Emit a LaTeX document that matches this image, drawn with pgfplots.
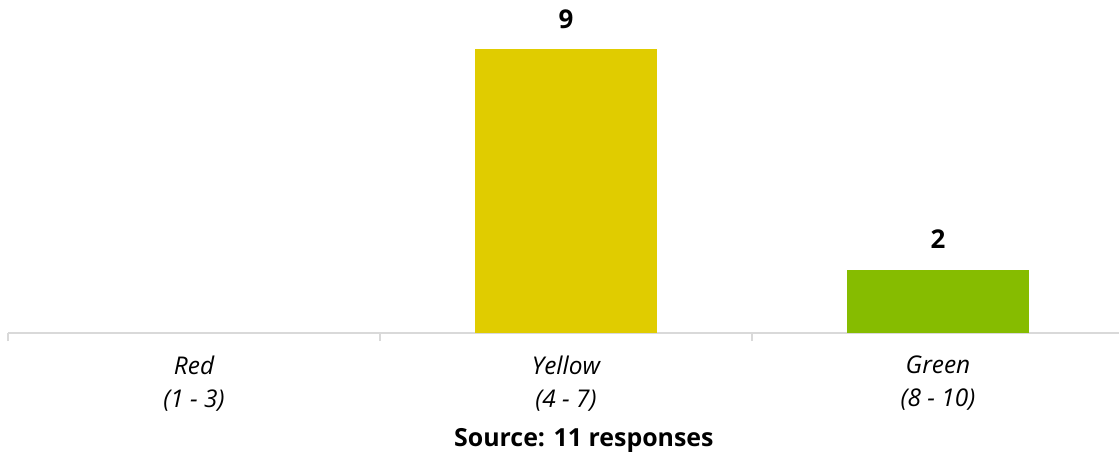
\documentclass[border=0pt]{standalone}
\usepackage{pgfplots}
\pgfplotsset{compat=1.18}
\usepackage{fontspec}
\setmainfont{Open Sans}
\definecolor{cyel}{RGB}{224,204,0}
\definecolor{cgrn}{RGB}{134,188,0}
\definecolor{cax}{RGB}{217,217,217}
\begin{document}
\begin{tikzpicture}
\begin{axis}[
  at={(8bp,122bp)}, anchor=south west,
  scale only axis, width=1116bp, height=333bp,
  xmin=-0.5, xmax=2.5, ymin=0, ymax=10.57,
  axis x line=bottom, axis y line=none,
  x axis line style={-, draw=cax, line width=1.2bp},
  xtick={0,1,2},
  xticklabels={{Red\\(1 - 3)},{Yellow\\(4 - 7)},{Green\\(8 - 10)}},
  xticklabel style={align=center, font=\fontsize{24.5}{33}\selectfont\itshape, text=black, inner sep=0pt, yshift=-23bp},
  major tick length=0pt,
  minor xtick={-0.5,0.5,1.5,2.5},
  minor tick length=8bp,
  tick align=outside,
  minor tick style={draw=cax, line width=1.2bp},
  ytick=\empty,
  clip=false,
  ybar, bar width=0.49,
  nodes near coords,
  /pgf/number format/assume math mode=true,
  every node near coord/.append style={font=\fontsize{26}{30}\selectfont\bfseries, text=black, anchor=base, inner sep=0pt, yshift=21bp},
]
\addplot[fill=cyel, draw=none, bar shift=0pt] coordinates {(1,9)};
\addplot[fill=cgrn, draw=none, bar shift=0pt] coordinates {(2,2)};
\node[font=\fontsize{25}{30}\selectfont\bfseries, anchor=center] at (rel axis cs:0.516,-0.322) {Source: 11 responses};
\end{axis}
\pgfresetboundingbox
\path (0,0) rectangle (1119bp,455bp);
\end{tikzpicture}
\end{document}
